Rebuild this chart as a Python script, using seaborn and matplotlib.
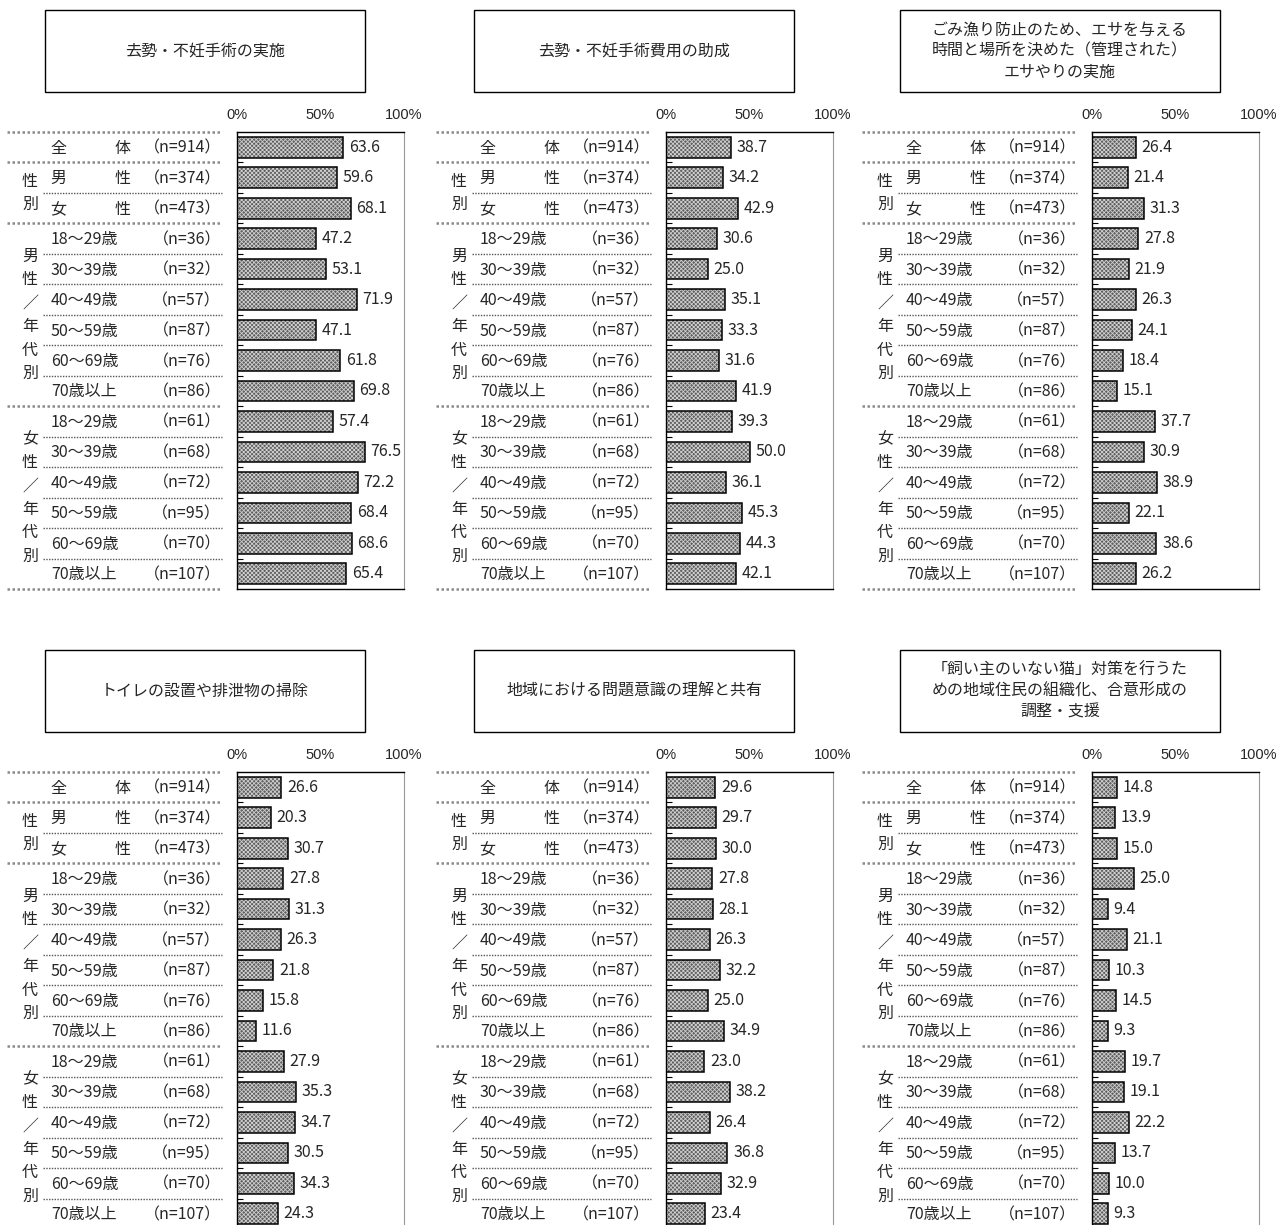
import numpy as np
import pandas as pd
import matplotlib
matplotlib.use("Agg")
import matplotlib.pyplot as plt
from matplotlib.patches import Rectangle
import seaborn as sns

# ---- データ ----
TITLES = [
    "去勢・不妊手術の実施",
    "去勢・不妊手術費用の助成",
    "ごみ漁り防止のため、エサを与える\n時間と場所を決めた（管理された）\nエサやりの実施",
    "トイレの設置や排泄物の掃除",
    "地域における問題意識の理解と共有",
    "「飼い主のいない猫」対策を行うた\nめの地域住民の組織化、合意形成の\n調整・支援",
]

ROW_LABELS = ["全　　　体", "男　　　性", "女　　　性",
              "18～29歳", "30～39歳", "40～49歳", "50～59歳", "60～69歳", "70歳以上",
              "18～29歳", "30～39歳", "40～49歳", "50～59歳", "60～69歳", "70歳以上"]
N_LABELS = ["（n=914）", "（n=374）", "（n=473）",
            "（n=36）", "（n=32）", "（n=57）", "（n=87）", "（n=76）", "（n=86）",
            "（n=61）", "（n=68）", "（n=72）", "（n=95）", "（n=70）", "（n=107）"]

GROUP_LABELS = ["性別", "男性／年代別", "女性／年代別"]
GROUP_ROWS = [(1, 2), (3, 8), (9, 14)]

VALS_1 = [63.6, 59.6, 68.1, 47.2, 53.1, 71.9, 47.1, 61.8, 69.8, 57.4, 76.5, 72.2, 68.4, 68.6, 65.4]
VALS_2 = [38.7, 34.2, 42.9, 30.6, 25.0, 35.1, 33.3, 31.6, 41.9, 39.3, 50.0, 36.1, 45.3, 44.3, 42.1]
VALS_3 = [26.4, 21.4, 31.3, 27.8, 21.9, 26.3, 24.1, 18.4, 15.1, 37.7, 30.9, 38.9, 22.1, 38.6, 26.2]
VALS_4 = [26.6, 20.3, 30.7, 27.8, 31.3, 26.3, 21.8, 15.8, 11.6, 27.9, 35.3, 34.7, 30.5, 34.3, 24.3]
VALS_5 = [29.6, 29.7, 30.0, 27.8, 28.1, 26.3, 32.2, 25.0, 34.9, 23.0, 38.2, 26.4, 36.8, 32.9, 23.4]
VALS_6 = [14.8, 13.9, 15.0, 25.0, 9.4, 21.1, 10.3, 14.5, 9.3, 19.7, 19.1, 22.2, 13.7, 10.0, 9.3]
ALL_VALS = [VALS_1, VALS_2, VALS_3, VALS_4, VALS_5, VALS_6]

# ---- スタイル ----
sns.set_theme(style="white")
plt.rcParams['font.family'] = ['Noto Sans CJK JP', 'DejaVu Sans']
plt.rcParams['hatch.linewidth'] = 0.6

W, H = 1288, 1225
fig = plt.figure(figsize=(W / 100, H / 100), dpi=100)

# 全体レイアウト用のオーバーレイ (ピクセル座標)
ov = fig.add_axes([0, 0, 1, 1], zorder=0)
ov.set_xlim(0, W)
ov.set_ylim(H, 0)
ov.axis('off')

AX_LEFTS = [237, 666, 1092]
AX_W = 167
AX_TOPS = [132, 772]
ROW_H = 30.47
N_ROWS = len(ROW_LABELS)
FULL_SEP = [0, 1, 3, 9, 15]


def px_rect(left, top, w, h):
    return [left / W, (H - top - h) / H, w / W, h / H]


for p, vals in enumerate(ALL_VALS):
    L = AX_LEFTS[p % 3]
    top = AX_TOPS[p // 3]
    title_top = top - 122

    # タイトルボックス
    ov.add_patch(Rectangle((L - 192, title_top), 320, 82, fill=False,
                           edgecolor='black', lw=1.0))
    ov.text(L - 32, title_top + 41, TITLES[p], ha='center', va='center',
            fontsize=11.5, linespacing=1.3)

    # 左側の表
    for k in range(N_ROWS + 1):
        y = top + k * ROW_H
        if k in FULL_SEP:
            ov.plot([L - 230, L - 15], [y, y], color='#8a8a8a', lw=1.8,
                    ls=(0, (1, 1)))
        else:
            ov.plot([L - 194, L - 15], [y, y], color='#555555', lw=1.0,
                    ls=(0, (1, 1)))

    for i, (lab, nl) in enumerate(zip(ROW_LABELS, N_LABELS)):
        y = top + (i + 0.5) * ROW_H + 1
        ov.text(L - 186, y, lab, ha='left', va='center', fontsize=11.5)
        ov.text(L - 16, y, nl, ha='right', va='center', fontsize=11.5)

    for glab, (r0, r1) in zip(GROUP_LABELS, GROUP_ROWS):
        yc = top + (r0 + r1 + 1) / 2 * ROW_H
        step = 23.5
        n = len(glab)
        for j, ch in enumerate(glab):
            ov.text(L - 207, yc + (j - (n - 1) / 2) * step, ch, ha='center',
                    va='center', fontsize=11.5)

    # 棒グラフ
    ax = fig.add_axes(px_rect(L, top, AX_W, ROW_H * N_ROWS), zorder=2)
    df = pd.DataFrame({'row': np.arange(N_ROWS), 'pct': vals})
    sns.barplot(data=df, x='pct', y='row', orient='h', ax=ax, color='#5e5e5e',
                saturation=1, errorbar=None, width=0.68, hatch='xxxxxxxx',
                edgecolor='#cfcfcf', linewidth=0)
    sns.barplot(data=df, x='pct', y='row', orient='h', ax=ax, color='black',
                fill=False, errorbar=None, width=0.68, linewidth=1.1)
    ax.bar_label(ax.containers[-1], labels=[f'{v:.1f}' for v in vals],
                 padding=4, fontsize=11.5)

    ax.set_xlim(0, 100)
    ax.set_ylim(N_ROWS - 0.5, -0.5)
    ax.set_xticks([0, 50, 100])
    ax.set_xticklabels(['0%', '50%', '100%'],
                       family=['Liberation Sans Narrow', 'Liberation Sans'])
    ax.xaxis.tick_top()
    ax.tick_params(axis='x', length=0, pad=7, labelsize=10.5)
    ax.set_yticks(np.arange(0.5, N_ROWS - 0.5, 1))
    ax.set_yticklabels([])
    ax.tick_params(axis='y', left=True, direction='in', length=4, width=0.8,
                   color='black')
    ax.set_xlabel('')
    ax.set_ylabel('')
    for side in ['left', 'top', 'bottom']:
        ax.spines[side].set_color('black')
        ax.spines[side].set_linewidth(1.0)
    ax.spines['right'].set_color('#999999')
    ax.spines['right'].set_linewidth(0.8)
    ax.set_facecolor('none')

fig.savefig('out.png', dpi=100)
